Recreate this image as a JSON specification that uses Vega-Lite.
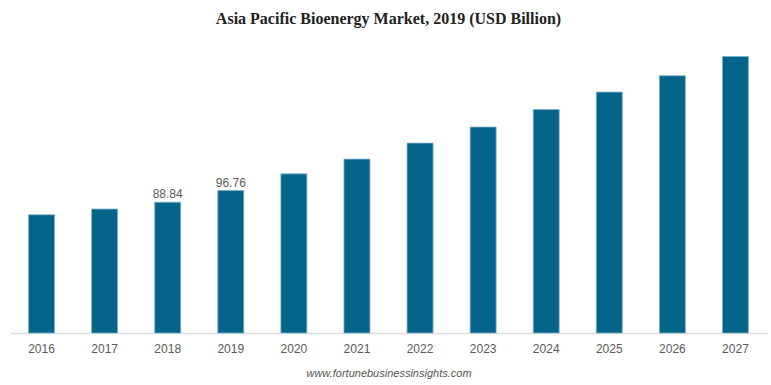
{
  "$schema": "https://vega.github.io/schema/vega-lite/v6.json",
  "autosize": "none",
  "width": 757,
  "height": 293,
  "padding": {"left": 10, "top": 40, "right": 4, "bottom": 52},
  "background": "white",
  "title": {
    "text": "Asia Pacific Bioenergy Market, 2019 (USD Billion)",
    "font": "Liberation Serif",
    "fontSize": 16,
    "fontWeight": "bold",
    "color": "#222222",
    "anchor": "middle",
    "offset": 13
  },
  "data": {
    "values": [
      {"year": "2016", "value": 80.3, "label": ""},
      {"year": "2017", "value": 84.2, "label": ""},
      {"year": "2018", "value": 88.84, "label": "88.84"},
      {"year": "2019", "value": 96.76, "label": "96.76"},
      {"year": "2020", "value": 108.1, "label": ""},
      {"year": "2021", "value": 118.1, "label": ""},
      {"year": "2022", "value": 129.0, "label": ""},
      {"year": "2023", "value": 139.9, "label": ""},
      {"year": "2024", "value": 151.8, "label": ""},
      {"year": "2025", "value": 163.6, "label": ""},
      {"year": "2026", "value": 174.7, "label": ""},
      {"year": "2027", "value": 187.8, "label": ""}
    ]
  },
  "encoding": {
    "x": {
      "field": "year",
      "type": "ordinal",
      "scale": {"paddingInner": 0.588, "paddingOuter": 0.294},
      "axis": {
        "title": "www.fortunebusinessinsights.com",
        "titleFont": "Liberation Sans",
        "titleFontStyle": "italic",
        "titleFontWeight": "normal",
        "titleFontSize": 11,
        "titleColor": "#555555",
        "titlePadding": 13,
        "labelAngle": 0,
        "labelFont": "Liberation Sans",
        "labelFontSize": 12,
        "labelColor": "#5a5a5a",
        "labelPadding": 10,
        "ticks": false,
        "domainColor": "#dddddd",
        "domainWidth": 1.5
      }
    },
    "y": {
      "field": "value",
      "type": "quantitative",
      "scale": {"domain": [0, 199], "nice": false},
      "axis": null
    }
  },
  "layer": [
    {
      "mark": {"type": "bar", "color": "#05648a", "stroke": "#7fb2c8", "strokeWidth": 0.8}
    },
    {
      "mark": {"type": "text", "dy": -8, "font": "Liberation Sans", "fontSize": 12, "color": "#5a5a5a"},
      "encoding": {"text": {"field": "label"}}
    }
  ],
  "config": {"view": {"stroke": null}}
}
